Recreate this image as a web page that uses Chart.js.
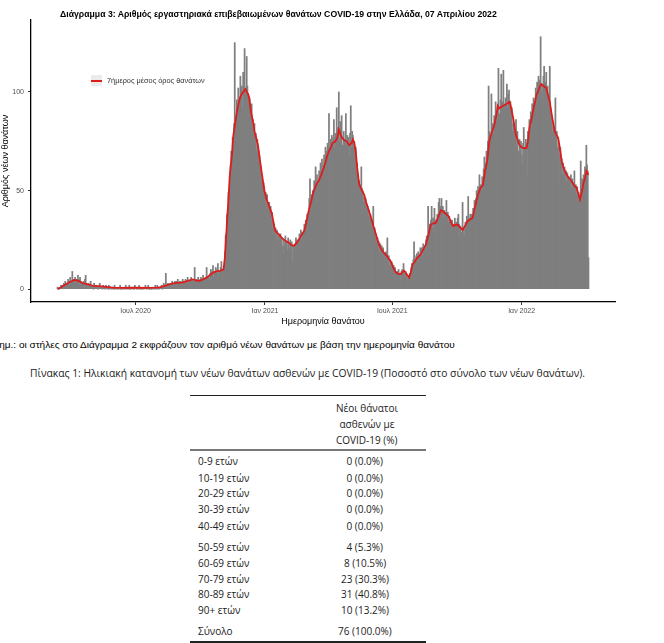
<!DOCTYPE html>
<html lang="el">
<head>
<meta charset="utf-8">
<title>Διάγραμμα 3 - Θάνατοι COVID-19</title>
<script src="https://cdn.jsdelivr.net/npm/chart.js@4.4.1/dist/chart.umd.min.js"></script>
<style>
  html, body { margin: 0; padding: 0; background: #fff; }
  #page { position: relative; width: 664px; height: 643px; overflow: hidden; font-family: "Liberation Sans", Arial, sans-serif; color: #000; }
  #chart { position: absolute; left: 0; top: 0; }
  .abs { position: absolute; white-space: nowrap; transform-origin: 0 50%; }
  .tbl { font-family: "Open Sans", "Noto Sans", sans-serif; font-size: 10px; color: #222; }
  .rule { position: absolute; left: 190px; width: 236px; }
</style>
</head>
<body>
<div id="page">
  <canvas id="chart" width="664" height="335"></canvas>
  <div id="title" class="abs" style="left:60px; top:9px; font-size:8.5px; line-height:10px; font-weight:bold;">Διάγραμμα 3: Αριθμός εργαστηριακά επιβεβαιωμένων θανάτων COVID-19 στην Ελλάδα, 07 Απριλίου 2022</div>
  <div id="legend" class="abs" style="left:91px; top:75px; height:11px;">
    <div style="position:absolute; left:0; top:0; width:11px; height:11px; background:#ebebeb;"></div>
    <div style="position:absolute; left:0; top:4.5px; width:11px; height:2px; background:#dd1c1c;"></div>
    <div id="legendText" class="abs" style="left:16px; top:1px; font-size:7.5px; line-height:9px; color:#333;">7ήμερος μέσος όρος θανάτων</div>
  </div>
  <div id="note" class="abs" style="left:-7px; top:340px; font-size:9px; line-height:10px;">Σημ.: οι στήλες στο Διάγραμμα 2 εκφράζουν τον αριθμό νέων θανάτων με βάση την ημερομηνία θανάτου</div>
  <div id="tableTitle" class="abs tbl" style="left:30px; top:366px; font-size:10.5px; line-height:14px;">Πίνακας 1: Ηλικιακή κατανομή των νέων θανάτων ασθενών με COVID-19 (Ποσοστό στο σύνολο των νέων θανάτων).</div>
  <div class="rule" style="top:394.5px; height:1px; background:#222;"></div>
  <div class="rule" style="top:449px; height:2px; background:#777;"></div>
  <div class="rule" style="top:641px; height:1.5px; background:#222;"></div>
</div>
<script>
// ημέρες μετρημένες από 1/1/2020 (0 = 1 Ιαν 2020)
const dayStart = 71; // 12 Μαρ 2020
const dailyDeaths = [
  1,0,0,1,1,2,2,  2,1,3,2,4,1,3,  3,5,4,2,6,3,4,  9,4,5,3,6,4,5,
  4,7,5,2,6,4,3,  3,2,4,1,5,7,3,  2,1,3,2,1,4,2,  1,2,0,3,1,2,1,
  2,1,0,1,3,1,1,  1,0,2,1,1,0,2,  1,1,0,2,0,1,1,  0,1,1,0,2,0,1,
  1,0,1,0,1,2,0,  0,1,0,1,1,0,2,  1,0,1,0,2,0,1,  0,1,1,0,0,2,1,
  1,0,0,1,2,0,1,  0,1,0,1,0,1,2,  1,0,1,2,0,1,0,  0,1,0,1,1,0,2,
  1,0,2,1,0,1,1,  1,2,0,1,3,2,1,  8,1,2,3,1,2,3,  3,2,4,3,2,3,4,
  3,4,2,5,3,2,4,  4,3,2,5,3,4,3,  5,3,4,6,3,4,4,  4,6,4,5,3,4,11,
  4,3,5,4,6,3,4,  5,6,4,5,7,4,5,  5,6,11,6,5,6,4,  8,10,7,9,12,6,8,
  9,11,8,10,13,7,9,  9,11,14,10,4,10,12,  19,27,28,38,40,49,51,  55,63,70,66,77,72,84,
  125,88,84,96,90,102,93,  97,108,95,103,92,110,99,  122,100,96,118,103,94,98,  97,92,88,94,82,86,78,
  84,74,79,70,76,66,70,  68,60,62,55,57,50,54,  52,45,49,43,48,40,44,  44,38,42,35,39,31,34,
  33,27,31,26,30,25,28,  27,23,28,24,26,22,18,  25,22,27,21,24,20,26,  23,20,25,19,24,14,22,
  21,23,19,26,22,25,24,  24,28,26,30,25,29,27,  28,33,30,35,32,38,36,  37,46,56,40,48,42,50,
  47,55,50,62,52,58,53,  53,60,56,64,58,66,59,  63,68,60,72,66,70,74,  72,89,68,76,70,78,73,
  77,86,72,79,70,92,76,  82,100,75,85,79,88,73,  72,80,76,70,89,74,78,  70,77,68,79,93,72,80,
  78,72,75,66,72,60,64,  58,52,55,48,53,62,51,  50,44,47,41,46,39,43,  42,37,40,34,38,36,33,
  35,42,29,31,26,28,24,  26,21,24,19,23,18,22,  19,21,16,18,15,19,17,  26,14,17,12,15,11,14,
  13,10,12,8,11,7,9,  9,6,10,7,8,5,9,  10,7,13,8,4,9,8,  6,4,7,5,8,6,11,
  13,11,15,24,17,14,16,  18,14,19,15,17,21,18,  21,17,23,19,22,20,25,  27,24,42,28,33,30,35,
  42,31,36,30,41,32,35,  33,38,36,44,46,42,40,  46,38,42,36,40,35,39,  45,36,39,34,37,33,35,
  31,35,29,33,30,36,32,  34,30,36,38,33,26,32,  29,26,44,28,31,27,34,  32,37,35,47,33,36,38,
  34,38,36,41,39,45,43,  46,50,44,52,48,58,50,  53,50,57,52,61,67,63,  64,70,66,75,103,80,77,
  76,99,81,84,79,88,86,  95,86,90,85,112,89,68,  96,109,88,95,111,85,94,  97,90,104,92,99,101,93,
  95,87,92,80,84,76,81,  78,86,72,80,70,58,76,  70,75,68,63,74,82,72,  69,76,74,57,80,79,86,
  84,90,82,94,88,97,92,  94,102,97,105,99,108,101,  106,128,100,104,96,108,113,  99,105,110,90,103,96,99,
  113,92,85,88,80,83,78,  82,97,75,80,72,52,74,  68,72,63,66,58,64,60,  62,55,60,54,59,52,57,
  55,50,58,51,56,49,54,  60,51,53,48,52,46,49,  45,40,65,51,56,50,58,  55,62,58,73,63,60,16
];

// 7ήμερος μέσος όρος, διαβασμένος από το διάγραμμα
const maDays = [71,74,78,83,88,95,101,107,114,121,130,140,150,165,180,195,210,216,222,226,231,235,242,249,256,263,268,273,278,283,288,292,297,302,307,
  309,312,314,316,319,321,324,326,329,331,334,336,338,340,342,344,346,349,351,354,356,359,361,363,365,368,371,374,376,379,381,385,390,395,400,403,407,410,414,418,
  421,423,426,428,432,435,439,442,446,450,454,457,460,462,466,469,471,474,476,479,482,486,489,491,493,495,497,500,504,507,510,514,517,521,524,528,531,535,540,545,
  549,552,556,559,561,564,567,571,573,576,580,583,587,590,595,598,602,605,609,613,616,619,621,624,627,630,633,636,640,643,647,651,654,658,661,665,669,672,676,679,
  681,683,685,688,690,692,695,697,699,702,707,710,714,716,719,721,723,726,728,731,733,738,740,742,745,747,750,752,755,757,759,762,766,768,771,774,778,781,783,786,
  788,791,795,798,802,806,809,812,814,817,819,821,823,826];
const maValues = [0.3,0.5,1.5,2.5,3.5,4.7,4.2,3,2.5,1.7,1.5,1.2,0.8,0.7,0.8,0.7,0.8,0.9,1.5,1.9,2.5,2.9,3.2,3.4,4.2,5,4.5,4.2,5,5.9,7.2,8.4,9,9.3,10,
  16,34,45,58,68,78,85,90,95,97.6,99.5,100.5,101.5,100,99,96,90,85,80,76,73,65,60,55,50,46,43,40,38,32,29.5,28,26,24.5,23.6,22.5,21.9,23,25,27.5,
  29,31,36,39.5,45,49.6,53,54.7,58,62,67,70,72,74,75,77,81,78,76.6,75.5,75,73,74,76,74,70,62,53,50,48,44,39.5,36,31,27.5,22.7,20.5,18.5,16.5,14,
  10.5,8.4,7.8,7.6,8.5,9.3,7.8,5.9,8,12.6,14.5,16,17.5,19.4,22.7,27,32.8,33.3,33.7,37,40,39.5,38.7,38,37,34.5,32,32.5,32.8,31.5,30,32.5,34.5,35.5,36,42,48,51,53,60,
  63,68,75,79,81,83,88,93,91.7,92.5,93.4,94,95,92,86.7,82,78,75,73,72,71.5,71.5,75,81.6,86,90,95,98.5,101,103,104,103,102,99,95,88,80,78,76.6,70,
  64.8,61,58,56.5,54.7,52.5,51.4,48,45.5,50,54,56,60,58];

const xTickDays = [182, 366, 547, 731];
const xTickLabels = ['Ιουλ 2020', 'Ιαν 2021', 'Ιουλ 2021', 'Ιαν 2022'];
const yTickValues = [0, 50, 100];

// Πίνακας 1
const ageGroups = ['0-9 ετών', '10-19 ετών', '20-29 ετών', '30-39 ετών', '40-49 ετών', '50-59 ετών', '60-69 ετών', '70-79 ετών', '80-89 ετών', '90+ ετών', 'Σύνολο'];
const deathCounts = [0, 0, 0, 0, 0, 4, 8, 23, 31, 10, 76];
const deathPercents = ['0.0', '0.0', '0.0', '0.0', '0.0', '5.3', '10.5', '30.3', '40.8', '13.2', '100.0'];
const headerLines = ['Νέοι θάνατοι', 'ασθενών με', 'COVID-19 (%)'];

const tickFont = { family: 'Liberation Sans', size: 7 };
const titleFont = { family: 'Liberation Sans', size: 9 };

const barData = dailyDeaths.map((v, i) => ({ x: dayStart + i, y: v }));
const lineData = maDays.map((d, i) => ({ x: d, y: maValues[i] }));

new Chart(document.getElementById('chart'), {
    type: 'bar',
    data: {
        datasets: [{
            type: 'line',
            label: '7ήμερος μέσος όρος θανάτων',
            data: lineData,
            borderColor: '#dd1c1c',
            borderWidth: 1.8,
            pointRadius: 0,
            tension: 0,
            fill: false,
            order: 0
        }, {
            type: 'bar',
            label: 'Θάνατοι',
            data: barData,
            backgroundColor: '#7f7f7f',
            borderWidth: 0,
            barThickness: 1.1,
            grouped: false,
            order: 1
        }]
    },
    options: {
        responsive: false,
        animation: false,
        layout: { padding: { left: 0, right: 49, top: 20, bottom: 0 } },
        plugins: {
            legend: { display: false },
            tooltip: { enabled: false }
        },
        scales: {
            x: {
                type: 'linear',
                min: 33.25,
                max: 863.75,
                offset: false,
                grid: { display: true, drawOnChartArea: false, drawTicks: true, tickLength: 3, tickColor: '#333', offset: false },
                border: { display: true, color: '#000', width: 1.3 },
                afterBuildTicks: scale => { scale.ticks = xTickDays.map(v => ({ value: v })); },
                afterFit: scale => { scale.height = 33; },
                ticks: {
                    autoSkip: false,
                    maxRotation: 0,
                    padding: 2,
                    color: '#4d4d4d',
                    font: tickFont,
                    callback: (value, index) => xTickLabels[index]
                },
                title: { display: true, text: 'Ημερομηνία θανάτου', color: '#000', font: titleFont, padding: { top: 0, bottom: 8 } }
            },
            y: {
                min: -6.5,
                max: 136.5,
                grid: { display: true, drawOnChartArea: false, drawTicks: true, tickLength: 3, tickColor: '#333' },
                border: { display: true, color: '#000', width: 1.3 },
                afterBuildTicks: scale => { scale.ticks = yTickValues.map(v => ({ value: v })); },
                afterFit: scale => { scale.width = 31; },
                ticks: { padding: 4, color: '#4d4d4d', font: tickFont },
                title: { display: true, text: 'Αριθμός νέων θανάτων', color: '#000', font: titleFont, padding: 0 }
            }
        }
    }
});

// πίνακας σε HTML
const page = document.getElementById('page');
function addText(text, x, y, align) {
    const el = document.createElement('div');
    el.className = 'abs tbl';
    el.textContent = text;
    el.style.lineHeight = '14px';
    el.style.top = (y - 7) + 'px';
    page.appendChild(el);
    if (align === 'center') {
        el.style.left = (x - el.offsetWidth / 2) + 'px';
    } else {
        el.style.left = x + 'px';
    }
    return el;
}
const headerY = [408, 424, 440];
headerLines.forEach((t, i) => addText(t, 367, headerY[i], 'center'));
const rowY = [461, 478, 493, 509, 526, 547, 563, 579, 594, 610, 631];
ageGroups.forEach((g, i) => {
    addText(g, 198, rowY[i], 'left');
    addText(deathCounts[i] + ' (' + deathPercents[i] + '%)', 365, rowY[i], 'center');
});

// πλάτος κειμένων όπως στην εικόνα
function fitWidth(id, w) {
    const el = document.getElementById(id);
    el.style.transform = 'scaleX(' + (w / el.offsetWidth) + ')';
}
fitWidth('title', 437);
fitWidth('legendText', 98);
fitWidth('note', 462);
fitWidth('tableTitle', 555);
</script>
</body>
</html>
